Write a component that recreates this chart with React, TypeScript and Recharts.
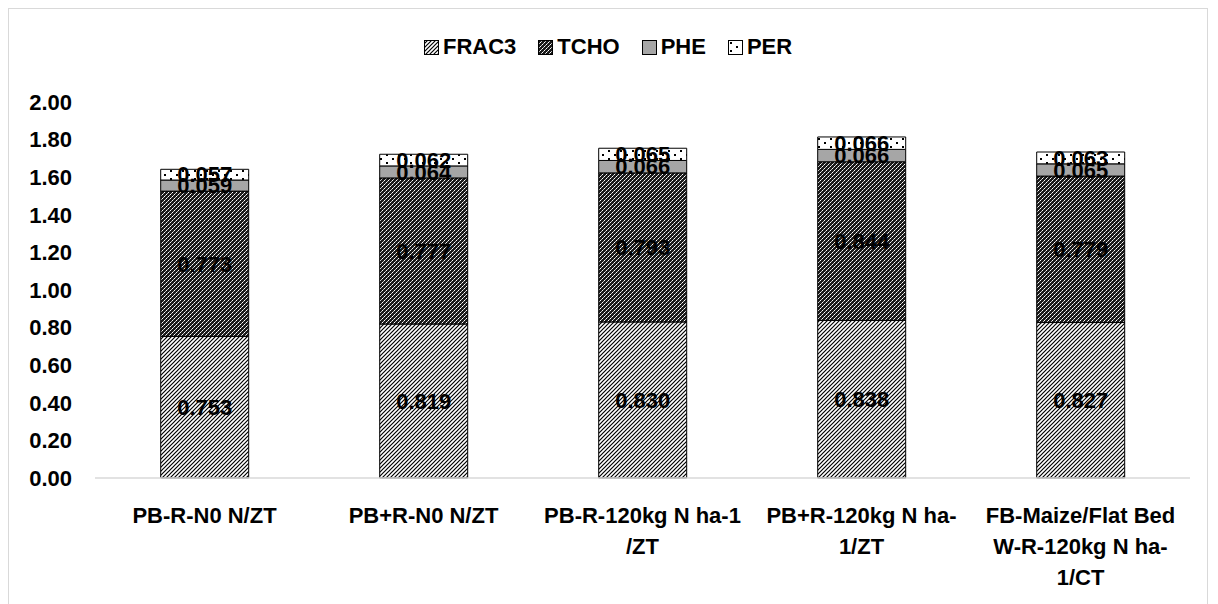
import React from 'react';
import { BarChart, Bar, XAxis, YAxis, LabelList } from 'recharts';

const categories = ['PB-R-N0 N/ZT', 'PB+R-N0 N/ZT', 'PB-R-120kg N ha-1 /ZT', 'PB+R-120kg N ha-1/ZT', 'FB-Maize/Flat Bed W-R-120kg N ha-1/CT'];
// how Excel wrapped each category label
const tickLines = [
    ['PB-R-N0 N/ZT'],
    ['PB+R-N0 N/ZT'],
    ['PB-R-120kg N ha-1', '/ZT'],
    ['PB+R-120kg N ha-', '1/ZT'],
    ['FB-Maize/Flat Bed', 'W-R-120kg N ha-', '1/CT'],
];
const frac3 = [0.753, 0.819, 0.83, 0.838, 0.827];
const tcho = [0.773, 0.777, 0.793, 0.844, 0.779];
const phe = [0.059, 0.064, 0.066, 0.066, 0.065];
const per = [0.057, 0.062, 0.065, 0.066, 0.063];
const yTicks = [0, 0.2, 0.4, 0.6, 0.8, 1.0, 1.2, 1.4, 1.6, 1.8, 2.0];

const FONT = '"Liberation Sans", Arial, sans-serif';

const data = categories.map((name, i) => ({
    name,
    FRAC3: frac3[i],
    TCHO: tcho[i],
    PHE: phe[i],
    PER: per[i],
}));

const series = [
    { key: 'FRAC3', fill: 'url(#pFrac3)' },
    { key: 'TCHO', fill: 'url(#pTcho)' },
    { key: 'PHE', fill: '#a6a6a6' },
    { key: 'PER', fill: 'url(#pPer)' },
];

function Patterns({ prefix }: { prefix: string }) {
    return (
        <defs>
            <pattern id={prefix + 'Frac3'} width="4" height="4" patternUnits="userSpaceOnUse">
                <rect width="4" height="4" fill="#fff" />
                <path d="M-1,1 l2,-2 M0,4 l4,-4 M3,5 l2,-2" stroke="#000" strokeWidth="1.2" />
            </pattern>
            <pattern id={prefix + 'Tcho'} width="4" height="4" patternUnits="userSpaceOnUse">
                <rect width="4" height="4" fill="#1a1a1a" />
                <rect x="0" y="0" width="1" height="1" fill="#fff" />
                <rect x="2" y="2" width="1" height="1" fill="#fff" />
                <rect x="1" y="3" width="1" height="1" fill="#bbb" />
                <rect x="3" y="1" width="1" height="1" fill="#bbb" />
            </pattern>
            <pattern id={prefix + 'Per'} width="12" height="8" patternUnits="userSpaceOnUse">
                <rect width="12" height="8" fill="#fff" />
                <rect x="2" y="2" width="2" height="2" fill="#000" />
                <rect x="8" y="6" width="2" height="2" fill="#000" />
            </pattern>
        </defs>
    );
}

function CategoryTick(props: any) {
    const { x, y, payload } = props;
    const lines = tickLines[payload.index] || [payload.value];
    return (
        <g>
            {lines.map((line, i) => (
                <text
                    key={i}
                    x={x}
                    y={y + 45 + i * 31}
                    textAnchor="middle"
                    fontFamily={FONT}
                    fontWeight="bold"
                    fontSize={22}
                    fill="#000"
                >
                    {line}
                </text>
            ))}
        </g>
    );
}

function LegendBox() {
    const swatch = (fill: string) => (
        <svg width={15} height={15} style={{ marginRight: 4 }}>
            <rect x={0.5} y={0.5} width={14} height={14} fill={fill} stroke="#000" strokeWidth={1} />
        </svg>
    );
    return (
        <div
            style={{
                position: 'absolute',
                top: 34,
                left: 424,
                display: 'flex',
                alignItems: 'center',
                fontFamily: FONT,
                fontWeight: 'bold',
                fontSize: 22,
                color: '#000',
            }}
        >
            <svg width={0} height={0} style={{ position: 'absolute' }}>
                <Patterns prefix="lg" />
            </svg>
            {series.map(s => (
                <div key={s.key} style={{ display: 'flex', alignItems: 'center', marginRight: 22 }}>
                    {swatch(s.fill.replace('#p', '#lg'))}
                    <span>{s.key}</span>
                </div>
            ))}
        </div>
    );
}

export default function App() {
    return (
        <div style={{ position: 'absolute', left: 0, top: 0, width: 1218, height: 604, background: '#fff' }}>
            <div
                style={{
                    position: 'absolute',
                    left: 8,
                    top: 8,
                    width: 1200,
                    height: 620,
                    border: '1.5px solid #d9d9d9',
                    boxSizing: 'border-box',
                }}
            />
            <LegendBox />
            <div style={{ position: 'absolute', left: 0, top: 0 }}>
                <BarChart
                    width={1218}
                    height={604}
                    data={data}
                    margin={{ top: 102, right: 28, bottom: 0, left: 0 }}
                    barCategoryGap="30%"
                >
                    <Patterns prefix="p" />
                    <XAxis
                        dataKey="name"
                        height={126}
                        interval={0}
                        tickLine={false}
                        tickSize={0}
                        tickMargin={0}
                        axisLine={{ stroke: '#d9d9d9', strokeWidth: 1.5 }}
                        tick={<CategoryTick />}
                    />
                    <YAxis
                        width={95}
                        domain={[0, 2]}
                        ticks={yTicks}
                        axisLine={false}
                        tickLine={false}
                        tickMargin={17}
                        tickFormatter={(v: number) => v.toFixed(2)}
                        tick={{ fontFamily: FONT, fontWeight: 'bold', fontSize: 22, fill: '#000' }}
                    />
                    {series.map(s => (
                        <Bar
                            key={s.key}
                            dataKey={s.key}
                            stackId="a"
                            fill={s.fill}
                            stroke="#000"
                            strokeWidth={1}
                            isAnimationActive={false}
                        >
                            <LabelList
                                dataKey={s.key}
                                position="center"
                                formatter={(v: any) => Number(v).toFixed(3)}
                                fill="#000"
                                fontFamily={FONT}
                                fontWeight="bold"
                                fontSize={22}
                            />
                        </Bar>
                    ))}
                </BarChart>
            </div>
        </div>
    );
}
